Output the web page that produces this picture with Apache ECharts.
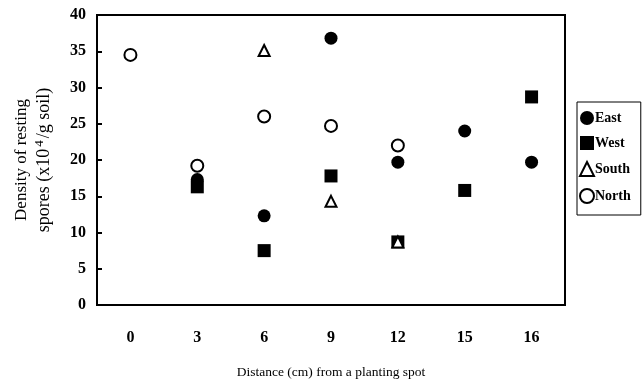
<!DOCTYPE html>
<html><head><meta charset="utf-8">
<script src="https://cdn.jsdelivr.net/npm/echarts@6/dist/echarts.min.js"></script>
<style>html,body{margin:0;padding:0;background:#fff}#c{width:642px;height:386px}</style>
</head><body><div id="c"></div>
<script>
const categories = ['0', '3', '6', '9', '12', '15', '16'];
const east  = [null, 17.3, 12.3, 36.8, 19.7, 24.0, 19.7];
const west  = [null, 16.3, 7.5, 17.8, 8.7, 15.8, 28.7];
const south = [null, null, 35.1, 14.3, 8.7, null, null];
const north = [34.5, 19.2, 26.0, 24.7, 22.0, null, null];
const yTicks = [0, 5, 10, 15, 20, 25, 30, 35, 40];

const FONT = '"Liberation Serif", "DejaVu Serif", serif';
const chart = echarts.init(document.getElementById('c'));
chart.setOption({
  backgroundColor: '#fff',
  animation: false,
  grid: { left: 97, right: 77, top: 15, bottom: 81, show: true, borderColor: '#000', borderWidth: 2,
          containLabel: false, outerBoundsMode: 'none' },
  legend: {
    orient: 'vertical', left: 577, top: 102,
    backgroundColor: '#fff',
    borderColor: '#000', borderWidth: 1,
    padding: [9, 10, 11, 2], itemGap: 11, itemWidth: 14, itemHeight: 14,
    textStyle: { fontFamily: FONT, fontSize: 14, fontWeight: 'bold', color: '#000', padding: [0, 0, 0, -4] },
    data: ['East', 'West', 'South', 'North']
  },
  xAxis: {
    type: 'category', data: categories, boundaryGap: true,
    name: 'Distance (cm) from a planting spot', nameLocation: 'middle', nameGap: 60,
    nameTextStyle: { fontFamily: FONT, fontSize: 13.5, color: '#000' },
    axisLine: { lineStyle: { color: '#000', width: 2 } },
    axisTick: { inside: true, length: 5, lineStyle: { color: '#000', width: 2 } },
    axisLabel: { fontFamily: FONT, fontSize: 16, fontWeight: 'bold', color: '#000', margin: 25 },
    splitLine: { show: false }
  },
  yAxis: {
    type: 'value', min: yTicks[0], max: yTicks[yTicks.length - 1], interval: 5,
    name: '{a|Density of resting}\n{b|spores (x10}{s|4}{b|/g soil)}', nameLocation: 'middle', nameGap: 41,
    nameTextStyle: {
      fontFamily: FONT, fontSize: 17, color: '#000', lineHeight: 23,
      rich: {
        a: { fontFamily: FONT, fontSize: 17, color: '#000', lineHeight: 23 },
        b: { fontFamily: FONT, fontSize: 18, color: '#000', lineHeight: 23 },
        s: { fontFamily: FONT, fontSize: 13, color: '#000', lineHeight: 23, verticalAlign: 'top', padding: [0, 2, 6, 2] }
      }
    },
    axisLine: { show: true, lineStyle: { color: '#000', width: 2 } },
    axisTick: { show: true, inside: true, length: 5, lineStyle: { color: '#000', width: 2 } },
    axisLabel: { fontFamily: FONT, fontSize: 16, fontWeight: 'bold', color: '#000', margin: 11 },
    splitLine: { show: false }
  },
  series: [
    { name: 'East', type: 'scatter', data: east, symbol: 'circle', symbolSize: 13,
      itemStyle: { color: '#000', opacity: 1 } },
    { name: 'West', type: 'scatter', data: west, symbol: 'rect', symbolSize: 13,
      itemStyle: { color: '#000', opacity: 1 } },
    { name: 'South', type: 'scatter', data: south, symbol: 'triangle', symbolSize: 11,
      itemStyle: { color: '#fff', borderColor: '#000', borderWidth: 2, opacity: 1 } },
    { name: 'North', type: 'scatter', data: north, symbol: 'circle', symbolSize: 12,
      itemStyle: { color: '#fff', borderColor: '#000', borderWidth: 2, opacity: 1 } }
  ]
});
</script></body></html>
